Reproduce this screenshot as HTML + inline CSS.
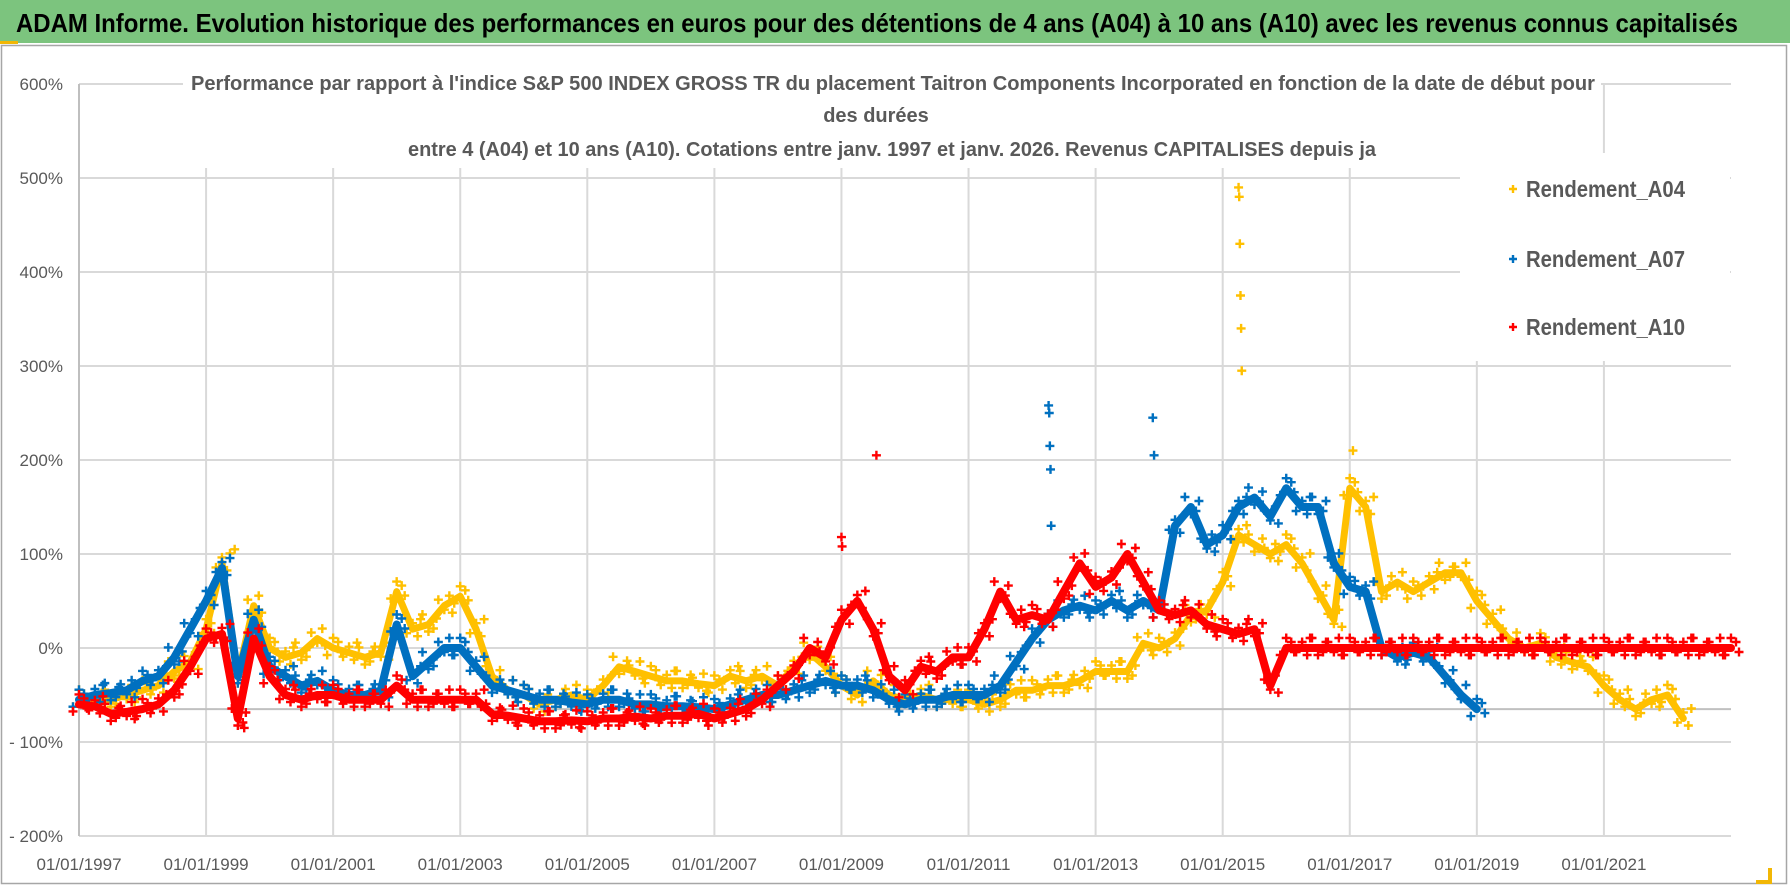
<!DOCTYPE html>
<html><head><meta charset="utf-8"><style>
html,body{margin:0;padding:0;background:#fff;}
svg{display:block;font-family:"Liberation Sans",sans-serif;}
</style></head><body>
<svg id="chart" width="1790" height="886" viewBox="0 0 1790 886">
<rect x="0" y="0" width="1790" height="886" fill="#fff"/>
<rect x="0" y="0" width="1790" height="43" fill="#7cc47e"/>
<rect x="0" y="41" width="18" height="3" fill="#f2b705"/>
<text x="16" y="32" font-size="26" font-weight="bold" fill="#000" textLength="1722" lengthAdjust="spacingAndGlyphs">ADAM Informe. Evolution historique des performances en euros pour des détentions de 4 ans (A04) à 10 ans (A10) avec les revenus connus capitalisés</text>
<rect x="1.5" y="45.5" width="1785" height="838" fill="none" stroke="#a6a6a6" stroke-width="1.5"/>
<path d="M1770 868 V882 H1756" fill="none" stroke="#f2b705" stroke-width="4"/>
<g id="grid"></g>
<rect x="183" y="62" width="1418" height="106" fill="#fff"/>
<rect x="1460" y="153" width="270" height="208" fill="#fff"/>
<g fill="#595959" font-weight="bold" font-size="20">
<text x="191" y="90" textLength="1404" lengthAdjust="spacingAndGlyphs">Performance par rapport à l'indice S&amp;P 500 INDEX GROSS TR  du placement Taitron Components Incorporated en fonction de la date de début pour</text>
<text x="876" y="122" text-anchor="middle">des durées</text>
<text x="408" y="156" textLength="968" lengthAdjust="spacingAndGlyphs">entre 4 (A04) et 10 ans (A10). Cotations entre janv. 1997 et janv. 2026. Revenus CAPITALISES depuis ja</text>
</g>
<g id="axes"></g>
<g id="plot"></g>
<g id="legend"></g>
</svg>
<script>
// ---- data ----
const yTicks = [600, 500, 400, 300, 200, 100, 0, -100, -200];
const yTickLabels = ["600%", "500%", "400%", "300%", "200%", "100%", "0%", "- 100%", "- 200%"];
const xTickYears = [1997, 1999, 2001, 2003, 2005, 2007, 2009, 2011, 2013, 2015, 2017, 2019, 2021];
const xTickLabels = ["01/01/1997","01/01/1999","01/01/2001","01/01/2003","01/01/2005","01/01/2007","01/01/2009","01/01/2011","01/01/2013","01/01/2015","01/01/2017","01/01/2019","01/01/2021"];
const seriesNames = ["Rendement_A04", "Rendement_A07", "Rendement_A10"];
const seriesStart = 1997;
const quarterStep = 0.25;
const a04Values = [
 -55,-58,-55,-50, -45,-40,-25,-15, 20,90,-30,45, 0,-10,-5,10, 0,-5,-10,-5,
 60,20,25,45, 55,20,-30,-45, -50,-60,-55,-50, -55,-40,-20,-25, -30,-35,-35,-38,
 -40,-30,-35,-30, -40,-20,-5,-20, -40,-50,-35,-50, -55,-50,-55,-55, -55,-60,-55,-45,
 -45,-40,-40,-35, -25,-25,-25,5, 0,10,35,40, 70,120,110,100, 110,90,60,30,
 170,150,60,70, 60,70,80,80, 50,30,10,0, 5,-10,-15,-20, -40,-55,-65,-55, -50,-75
];
const a07Values = [
 -55,-50,-48,-45, -35,-30,-10,20, 50,85,-30,30, -20,-30,-40,-35, -45,-50,-50,-45,
 25,-30,-15,0, 0,-20,-40,-45, -50,-55,-55,-58, -60,-55,-55,-60, -60,-62,-62,-63,
 -65,-60,-55,-50, -50,-45,-40,-35, -40,-40,-45,-55, -60,-55,-55,-50, -50,-50,-40,-15,
 10,30,40,45, 40,50,40,50, 40,130,150,110, 120,150,160,140, 170,150,150,90,
 65,60,0,-10, -5,-10,-30,-50, -65
];
const a10Values = [
 -60,-62,-70,-68, -65,-60,-45,-20, 10,15,-75,10, -30,-50,-55,-50, -50,-55,-55,-55,
 -40,-55,-55,-55, -55,-55,-70,-72, -75,-78,-78,-77, -78,-75,-75,-73, -75,-72,-72,-70,
 -75,-70,-65,-55, -40,-25,0,-10, 30,50,20,-30, -45,-20,-25,-10, -10,20,60,30,
 35,30,60,90, 65,75,100,70, 40,35,40,25, 20,15,20,-40,
 0,0,0,0, 0,0,0,0, 0,0,0,0, 0,0,0,0, 0,0,0,0, 0,0,0,0, 0,0,0,0, 0
];
const a04OutlierDates = [2015.25, 2015.26, 2015.27, 2015.28, 2015.29, 2015.3, 2017.05, 1999.45];
const a04OutlierValues = [490, 480, 430, 375, 340, 295, 210, 105];
const a07OutlierDates = [2012.26, 2012.27, 2012.28, 2012.29, 2012.3, 2013.9, 2013.92];
const a07OutlierValues = [258, 250, 215, 190, 130, 245, 205];
const a10OutlierDates = [2009.55, 2009.0, 2009.01, 1999.6];
const a10OutlierValues = [205, 118, 108, -85];
const refLineValue = -65;

// ---- axes ----
const NS = "http://www.w3.org/2000/svg";
const X0 = 79, X1 = 1731, Y0 = 648, PX100 = 94;
function xs(year){ return X0 + (year - 1997) * (X1 - X0) / 26; }
function ys(v){ return Y0 - v * PX100 / 100; }
function mk(tag, attrs, parent){ const e = document.createElementNS(NS, tag); for (const k in attrs) e.setAttribute(k, attrs[k]); parent.appendChild(e); return e; }

const grid = document.getElementById('grid');
const axes = document.getElementById('axes');
yTicks.forEach((t, i) => {
  const l = mk('line', {x1: X0, x2: X1, y1: ys(t), y2: ys(t), stroke: '#d9d9d9', 'stroke-width': 2}, grid);
  
  
  const tx = mk('text', {x: 63, y: ys(t) + 6, 'text-anchor': 'end', 'font-size': 17, fill: '#595959'}, axes);
  tx.textContent = yTickLabels[i];
  
  
});
xTickYears.forEach((yr, i) => {
  if (i > 0) {
    const l = mk('line', {x1: xs(yr), x2: xs(yr), y1: ys(600), y2: ys(-200), stroke: '#d9d9d9', 'stroke-width': 2}, grid);
    
    
  }
  const tx = mk('text', {x: xs(yr), y: 870, 'text-anchor': 'middle', 'font-size': 17, fill: '#595959'}, axes);
  tx.textContent = xTickLabels[i];
  
  
});
const yAxis = mk('line', {x1: X0, x2: X0, y1: ys(600), y2: ys(-200), stroke: '#bfbfbf', 'stroke-width': 2}, axes);



// ---- series ----
const plot = document.getElementById('plot');
const refLine = mk('line', {x1: X0, x2: X1, y1: ys(refLineValue), y2: ys(refLineValue), stroke: '#c0c0c0', 'stroke-width': 2}, plot);



function plus(x, y, s, color, parent, name){
  const p = mk('path', {d: `M${x-s} ${y}H${x+s}M${x} ${y-s}V${y+s}`, stroke: color, 'stroke-width': 2.4, fill: 'none'}, parent);
  
  
}
const jitterDx = [-6, 5, 0, 8];
const jitterDy = [7, -6, -10, 4];
function drawSeries(values, color, name, odates, ovals, width){
  const g = mk('g', {}, plot);
  
  
  const pts = values.map((v, i) => xs(seriesStart + i * quarterStep).toFixed(1) + ',' + ys(v).toFixed(1)).join(' ');
  const pl = mk('polyline', {points: pts, fill: 'none', stroke: color, 'stroke-width': width, 'stroke-linejoin': 'round', 'stroke-linecap': 'round'}, g);
  
  
  values.forEach((v, i) => {
    const x = xs(seriesStart + i * quarterStep), y = ys(v);
    for (let k = 0; k < 4; k++) plus(x + jitterDx[(k + i) % 4], y + jitterDy[k], 4.5, color, g, name + '-point');
  });
  odates.forEach((d, i) => plus(xs(d), ys(ovals[i]), 4.5, color, g, name + '-outlier'));
}
drawSeries(a04Values, '#ffc000', 'a04', a04OutlierDates, a04OutlierValues, 7);
drawSeries(a07Values, '#0070c0', 'a07', a07OutlierDates, a07OutlierValues, 8);
drawSeries(a10Values, '#ff0000', 'a10', a10OutlierDates, a10OutlierValues, 8);

// ---- legend ----
const legend = document.getElementById('legend');
const legendColors = ['#ffc000', '#0070c0', '#ff0000'];
const legendY = [197, 267, 335];
seriesNames.forEach((n, i) => {
  plus(1513, legendY[i] - 8, 4, legendColors[i], legend, 'legend-marker');
  const t = mk('text', {x: 1526, y: legendY[i], 'font-size': 23, 'font-weight': 'bold', fill: '#595959', textLength: 159, lengthAdjust: 'spacingAndGlyphs'}, legend);
  t.textContent = n;
  
  
});
</script>
</body></html>
